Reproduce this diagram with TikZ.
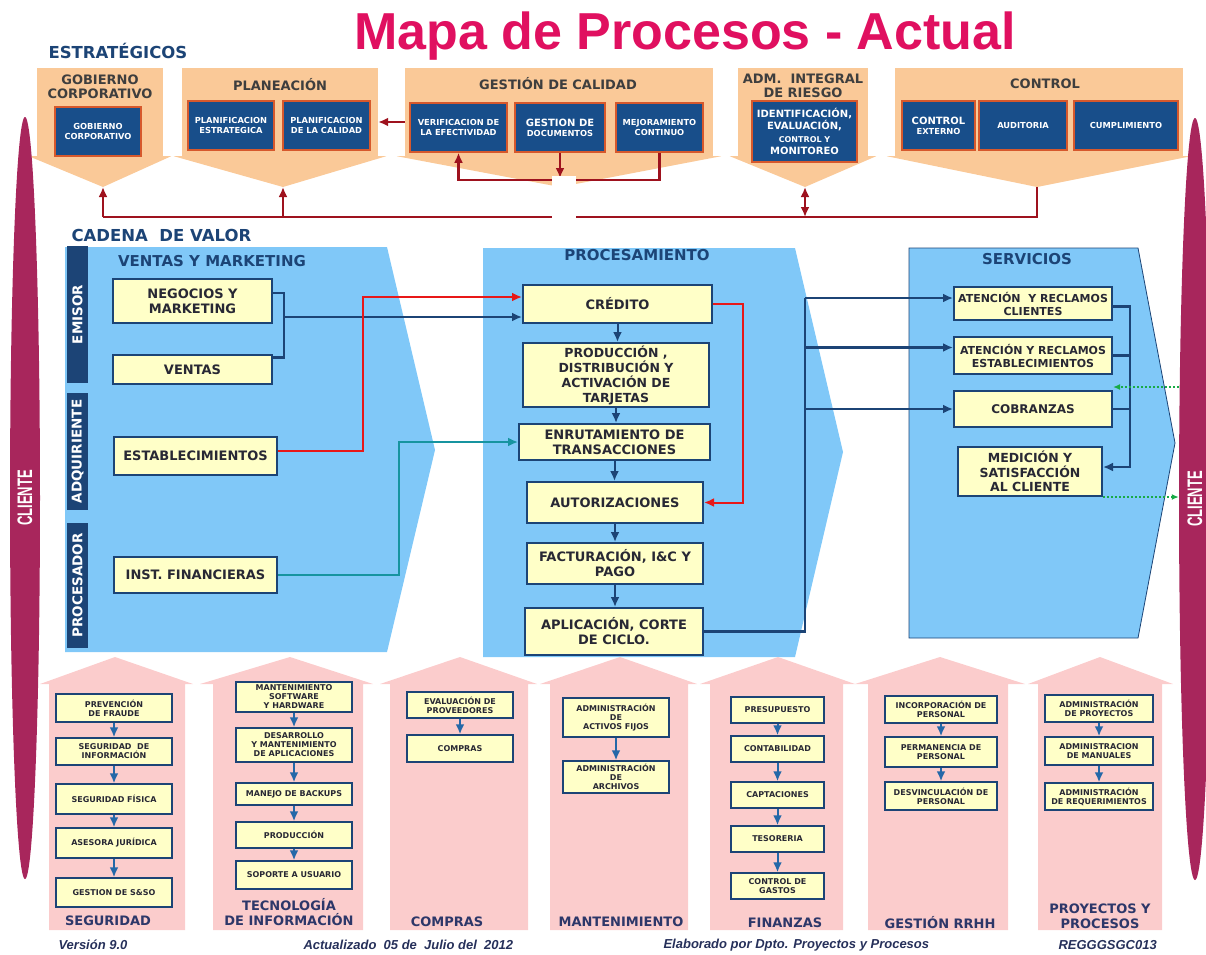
\documentclass[tikz,border=0pt]{standalone}
\usepackage{fontspec}
\setmainfont{DejaVu Sans}
\newfontfamily\arial{Liberation Sans}
\usepackage{graphicx}
\usetikzlibrary{shapes.geometric, arrows.meta}

\definecolor{durazno}{RGB}{250,201,152}
\definecolor{azulosc}{RGB}{24,78,138}
\definecolor{naranja}{RGB}{214,88,44}
\definecolor{marino}{RGB}{28,68,118}
\definecolor{celeste}{RGB}{128,200,248}
\definecolor{crema}{RGB}{255,255,200}
\definecolor{rosado}{RGB}{251,204,204}
\definecolor{granate}{RGB}{168,38,92}
\definecolor{fucsia}{RGB}{224,16,96}
\definecolor{vino}{RGB}{158,18,30}
\definecolor{rojo}{RGB}{232,24,24}
\definecolor{turquesa}{RGB}{22,148,160}
\definecolor{verdep}{RGB}{24,170,70}
\definecolor{acero}{RGB}{36,104,168}
\definecolor{grisosc}{RGB}{62,62,62}
\definecolor{tinta}{RGB}{40,40,52}
\definecolor{indigo}{RGB}{45,55,105}
\definecolor{pie}{RGB}{38,48,90}

\tikzset{
    estr/.style={fill=durazno, inner sep=0pt},
    estrtit/.style={text=grisosc, align=center, font=\fontsize{13}{14.5}\selectfont\bfseries},
    estint/.style={fill=azulosc, draw=naranja, line width=1.5pt, text=white, align=center, inner sep=1pt, font=\fontsize{8.3}{10}\selectfont\bfseries},
    seccion/.style={text=marino, font=\fontsize{16.5}{18}\selectfont\bfseries},
    titpanel/.style={text=marino, font=\fontsize{15}{17}\selectfont\bfseries},
    barra/.style={fill=marino, text=white, minimum height=21, inner sep=0pt, font=\fontsize{13.5}{14}\selectfont\bfseries},
    caja/.style={fill=crema, draw=marino, line width=2pt, text=tinta, align=center, inner sep=2pt, font=\fontsize{13}{15}\selectfont\bfseries},
    cajita/.style={fill=crema, draw=marino, line width=1.5pt, text=tinta, align=center, inner sep=1pt, font=\fontsize{8}{9}\selectfont\bfseries},
    tithouse/.style={text=indigo, align=center, font=\fontsize{13}{14.5}\selectfont\bfseries},
    cliente/.style={ellipse, fill=granate, text=white, minimum width=762, inner sep=0pt, font=\arial\bfseries\fontsize{21}{21}\selectfont},
    lvino/.style={draw=vino, line width=2.5pt},
    lroja/.style={->, draw=rojo, line width=2pt},
    lturq/.style={->, draw=turquesa, line width=2pt},
    flecha/.style={->, draw=marino, line width=2pt},
    gruesa/.style={draw=marino, line width=2.5pt},
    flechita/.style={->, draw=acero, line width=2pt},
    verde/.style={-{Latex[length=7pt,width=6pt]}, draw=verdep, line width=2pt, dash pattern=on 2pt off 2pt},
    piepag/.style={anchor=west, text=pie, font=\arial\bfseries\itshape\fontsize{13}{13}\selectfont},
}

\begin{document}
\begin{tikzpicture}[x=1pt, y=-1pt, >={Latex[length=10pt,width=9pt]}]
\useasboundingbox (0,0) rectangle (1206,954);

\node[anchor=base, text=fucsia, font=\arial\bfseries\fontsize{52}{52}\selectfont] (titulo) at (685,49) {Mapa de Procesos - Actual};

\begin{scope}
    \node[seccion, anchor=base west] (estrat) at (45,58) {ESTRATÉGICOS};
    \node[estr, minimum width=126, minimum height=89] (gob) at (100,112.5) {};
    \node[estr, minimum width=196, minimum height=89] (plan) at (280,112.5) {};
    \node[estr, minimum width=308, minimum height=89] (gcal) at (559,112.5) {};
    \node[estr, minimum width=130, minimum height=89] (riesgo) at (803,112.5) {};
    \node[estr, minimum width=288, minimum height=89] (ctrl) at (1039,112.5) {};
\foreach \n/\xt in {gob/103, plan/283, gcal/560, riesgo/805, ctrl/1037}
{
    \coordinate (t\n) at (\xt,187);
    \fill[durazno] ([xshift=-8pt, yshift=1pt]\n.south west) -- (t\n) -- ([xshift=8pt, yshift=1pt]\n.south east) -- cycle;
}
    \node[estrtit] (gobtit) at (100,87) {GOBIERNO\\CORPORATIVO};
    \node[estrtit] (plantit) at (280,85) {PLANEACIÓN};
    \node[estrtit] (gcaltit) at (558,84) {GESTIÓN DE CALIDAD};
    \node[estrtit] (riesgotit) at (803,86) {ADM.\ \ INTEGRAL\\DE RIESGO};
    \node[estrtit] (ctrltit) at (1045,84) {CONTROL};

    \node[estint, minimum width=86, minimum height=49] (gob1) at (98,131.5) {GOBIERNO\\CORPORATIVO};
    \node[estint, minimum width=86, minimum height=49] (plan1) at (231,125.5) {PLANIFICACION\\ESTRATEGICA};
    \node[estint, minimum width=87, minimum height=49] (plan2) at (326.5,125.5) {PLANIFICACION\\DE LA CALIDAD};
    \node[estint, minimum width=97, minimum height=49] (gcal1) at (458.5,127.5) {VERIFICACION DE\\LA EFECTIVIDAD};
    \node[estint, minimum width=90, minimum height=49] (gcal2) at (560,127.5) {{\fontsize{10}{12}\selectfont GESTION DE}\\DOCUMENTOS};
    \node[estint, minimum width=87, minimum height=49] (gcal3) at (659.5,127.5) {MEJORAMIENTO\\CONTINUO};
    \node[estint, minimum width=105, minimum height=61, font=\fontsize{10}{12.5}\selectfont\bfseries] (riesgo1) at (804.5,131.5) {IDENTIFICACIÓN,\\EVALUACIÓN,\\{\fontsize{8}{10}\selectfont CONTROL Y}\\MONITOREO};
    \node[estint, minimum width=73, minimum height=49] (ctrl1) at (938.5,125.5) {{\fontsize{10}{12}\selectfont CONTROL}\\EXTERNO};
    \node[estint, minimum width=88, minimum height=49] (ctrl2) at (1023,125.5) {AUDITORIA};
    \node[estint, minimum width=104, minimum height=49] (ctrl3) at (1126,125.5) {CUMPLIMIENTO};

    \draw[lvino,->] (gcal.west |- 0,122) -- (plan.east |- 0,122);
    \draw[lvino,->] (gcal2.south) -- (gcal2.south |- 0,178);
    \draw[lvino,->] (gcal3.south) -- (gcal3.south |- 0,180) -| (gcal1.south);
    \draw[lvino] (tctrl) -- (tctrl |- 0,217) -- (tgob |- 0,217);
    \draw[lvino,->] (tgob |- 0,217) -- (tgob);
    \draw[lvino,->] (tplan |- 0,217) -- (tplan);
    \draw[lvino,<->] (triesgo |- 0,217) -- (triesgo);
    \fill[white] (552,176) rectangle (576,223);
\end{scope}

\begin{scope}
    \node[seccion, anchor=base west] (cadena) at (68,241) {CADENA\ \ DE VALOR};
    \fill[celeste] (65,247) -- (387,247) -- (435,450) -- (387,652) -- (65,652) -- cycle;
    \fill[celeste] (483,248) -- (795,248) -- (843,452) -- (795,657) -- (483,657) -- cycle;
    \filldraw[fill=celeste, draw=marino, line width=.8pt] (909,248) -- (1138,248) -- (1175,443) -- (1138,638) -- (909,638) -- cycle;

    \node[barra, minimum width=137, rotate=90] (emisor) at (77.5,314.5) {EMISOR};
    \node[barra, minimum width=117, rotate=90] (adquir) at (77.5,451.5) {ADQUIRIENTE};
    \node[barra, minimum width=125, rotate=90] (proces) at (77.5,585.5) {PROCESADOR};

    \node[titpanel] (ventas) at (212,261) {VENTAS Y MARKETING};
    \node[titpanel] (procesam) at (637,255) {PROCESAMIENTO};
    \node[titpanel] (servicios) at (1027,259) {SERVICIOS};

    \node[caja, minimum width=159, minimum height=44] (neg) at (192.5,301) {NEGOCIOS Y\\MARKETING};
    \node[caja, minimum width=159, minimum height=29] (ven) at (192.5,369.5) {VENTAS};
    \node[caja, minimum width=163, minimum height=38] (est) at (195.5,456) {ESTABLECIMIENTOS};
    \node[caja, minimum width=163, minimum height=36] (inst) at (195.5,575) {INST. FINANCIERAS};

    \node[caja, minimum width=189, minimum height=38] (cre) at (617.5,304) {CRÉDITO};
    \node[caja, minimum width=186, minimum height=64, font=\fontsize{12.5}{15}\selectfont\bfseries] (prod) at (616,375) {PRODUCCIÓN ,\\DISTRIBUCIÓN Y\\ACTIVACIÓN DE\\TARJETAS};
    \node[caja, minimum width=191, minimum height=36] (enr) at (614.5,442) {ENRUTAMIENTO DE\\TRANSACCIONES};
    \node[caja, minimum width=176, minimum height=41] (aut) at (615,502.5) {AUTORIZACIONES};
    \node[caja, minimum width=176, minimum height=41] (fac) at (615,563.5) {FACTURACIÓN, I\&C Y\\PAGO};
    \node[caja, minimum width=178, minimum height=47] (apl) at (614,631.5) {APLICACIÓN, CORTE\\DE CICLO.};

    \node[caja, minimum width=158, minimum height=33, font=\fontsize{11}{13}\selectfont\bfseries] (atc) at (1033,303.5) {ATENCIÓN\ \ Y RECLAMOS\\CLIENTES};
    \node[caja, minimum width=158, minimum height=37, font=\fontsize{11}{13}\selectfont\bfseries] (ate) at (1033,355.5) {ATENCIÓN Y RECLAMOS\\ESTABLECIMIENTOS};
    \node[caja, minimum width=158, minimum height=36, font=\fontsize{12}{14}\selectfont\bfseries] (cob) at (1033,409) {COBRANZAS};
    \node[caja, minimum width=144, minimum height=49, font=\fontsize{12.5}{14.5}\selectfont\bfseries] (med) at (1030,471.5) {MEDICIÓN Y\\SATISFACCIÓN\\AL CLIENTE};

    \coordinate (brk) at (284,317);
    \draw[gruesa] ([yshift=8pt]neg.east) -| (brk) |- ([yshift=12pt]ven.east);
    \draw[flecha] (brk) -- (brk -| cre.west);
    \draw[lroja] ([yshift=5pt]est.east) -- ++(85,0) |- ([yshift=7pt]cre.west);
    \draw[lturq] (inst.east) -- ++(121,0) |- (enr.west);
    \draw[lroja] (cre.east) -- ++(30,0) |- (aut.east);
\foreach \a/\b in {cre/prod, prod/enr, enr/aut, aut/fac, fac/apl}
{
    \draw[flecha] (\a.south) -- (\a.south |- \b.north);
}
    \coordinate (tr) at (805,298);
    \draw[gruesa] (apl.east) -| (tr);
    \draw[gruesa,->] (tr) -- (tr -| atc.west);
    \draw[gruesa,->] ([yshift=8pt]ate.west -| tr) -- ([yshift=8pt]ate.west);
    \draw[gruesa,->] (cob.west -| tr) -- (cob.west);

    \coordinate (tr2) at (1130,467);
    \draw[gruesa,->] ([yshift=-3pt]atc.east) -| (tr2) -- (tr2 -| med.east);
    \draw[gruesa] (ate.east) -- (ate.east -| tr2);
    \draw[gruesa] (cob.east) -- (cob.east -| tr2);
\end{scope}

\begin{scope}
\foreach \xa/\xb/\ea/\eb/\px in {49/185/40/193/115, 213/363/200/373/290, 390/528/380/537/460, 550/688/540/697/620, 710/843/700/855/778, 868/1008/855/1025/940, 1038/1162/1028/1173/1100}
{
    \fill[rosado] (\xa,930) -- (\xa,684) -- (\ea,684) -- (\px,657) -- (\eb,684) -- (\xb,684) -- (\xb,930) -- cycle;
}
\foreach \n/\y/\h/\t in {s1/708/28/{PREVENCIÓN\\DE FRAUDE}, s2/751.5/27/{SEGURIDAD\ \ DE\\INFORMACIÓN}, s3/799/30/{SEGURIDAD FÍSICA}, s4/843/30/{ASESORA JURÍDICA}, s5/892.5/29/{GESTION DE S\&SO}}
{
    \node[cajita, minimum width=116, minimum height=\h] (\n) at (114,\y) {\t};
}
\foreach \n/\y/\h/\t in {t1/697/30/{MANTENIMIENTO\\SOFTWARE\\Y HARDWARE}, t2/745/34/{DESARROLLO\\Y MANTENIMIENTO\\DE APLICACIONES}, t3/794/22/{MANEJO DE BACKUPS}, t4/835/26/{PRODUCCIÓN}, t5/875/28/{SOPORTE A USUARIO}}
{
    \node[cajita, minimum width=116, minimum height=\h] (\n) at (294,\y) {\t};
}
\foreach \n/\y/\h/\t in {co1/705/26/{EVALUACIÓN DE\\PROVEEDORES}, co2/748.5/27/{COMPRAS}}
{
    \node[cajita, minimum width=106, minimum height=\h] (\n) at (460,\y) {\t};
}
\foreach \n/\y/\h/\t in {m1/717.5/39/{ADMINISTRACIÓN\\DE\\ACTIVOS FIJOS}, m2/777/32/{ADMINISTRACIÓN\\DE\\ARCHIVOS}}
{
    \node[cajita, minimum width=106, minimum height=\h] (\n) at (616,\y) {\t};
}
\foreach \n/\y/\h/\t in {f1/710/26/{PRESUPUESTO}, f2/749/26/{CONTABILIDAD}, f3/795/26/{CAPTACIONES}, f4/839/26/{TESORERIA}, f5/886/26/{CONTROL DE\\GASTOS}}
{
    \node[cajita, minimum width=93, minimum height=\h] (\n) at (777.5,\y) {\t};
}
\foreach \n/\y/\h/\t in {r1/709.5/27/{INCORPORACIÓN DE\\PERSONAL}, r2/752/30/{PERMANENCIA DE\\PERSONAL}, r3/796/28/{DESVINCULACIÓN DE\\PERSONAL}}
{
    \node[cajita, minimum width=112, minimum height=\h] (\n) at (941,\y) {\t};
}
\foreach \n/\y/\h/\t in {y1/708.5/27/{ADMINISTRACIÓN\\DE PROYECTOS}, y2/751/28/{ADMINISTRACION\\DE MANUALES}, y3/796.5/27/{ADMINISTRACIÓN\\DE REQUERIMIENTOS}}
{
    \node[cajita, minimum width=108, minimum height=\h] (\n) at (1099,\y) {\t};
}
\foreach \a/\b in {s1/s2, s2/s3, s3/s4, s4/s5, t1/t2, t2/t3, t3/t4, t4/t5, co1/co2, m1/m2, f1/f2, f2/f3, f3/f4, f4/f5, r1/r2, r2/r3, y1/y2, y2/y3}
{
    \draw[flechita] (\a) -- (\b);
}
    \node[tithouse] (segtit) at (108,921) {SEGURIDAD};
    \node[tithouse] (tectit) at (289,912) {TECNOLOGÍA\\DE INFORMACIÓN};
    \node[tithouse] (comtit) at (447,922) {COMPRAS};
    \node[tithouse] (mantit) at (621,922) {MANTENIMIENTO};
    \node[tithouse] (fintit) at (785,923) {FINANZAS};
    \node[tithouse] (rrhhtit) at (940,923) {GESTIÓN RRHH};
    \node[tithouse] (proytit) at (1100,916) {PROYECTOS Y\\PROCESOS};
\end{scope}

\node[piepag] (version) at (55,945) {Versión 9.0};
\node[piepag] (fecha) at (300,945) {Actualizado\ \ 05 de\ \ Julio del\ \ 2012};
\node[piepag] (autor) at (660,945) {Elaborado por Dpto. Proyectos y Procesos};
\node[piepag] (codigo) at (1055,945) {REGGGSGC013};

\node[cliente, minimum height=30, rotate=90] (clizq) at (25,498) {\scalebox{0.62}[1]{CLIENTE}};
\node[cliente, minimum height=32, rotate=90] (clder) at (1195,499) {\scalebox{0.62}[1]{CLIENTE}};
\draw[verde] (clder.north |- 0,387) -- (cob.north east |- 0,387);
\draw[verde] (med.south east) -- (med.south east -| clder.north);

\end{tikzpicture}
\end{document}
